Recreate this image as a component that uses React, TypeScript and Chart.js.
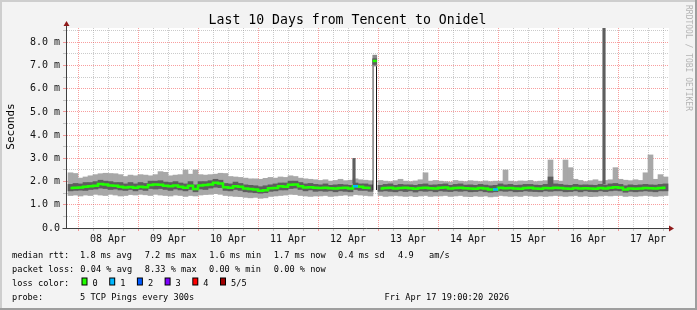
import React, { useEffect, useRef } from 'react';
import { Chart, registerables } from 'chart.js';

Chart.register(...registerables);

const TITLE = 'Last 10 Days from Tencent to Onidel';
const Y_TITLE = 'Seconds';
const WATERMARK = 'RRDTOOL / TOBI OETIKER';

const dayLabels = ['08 Apr', '09 Apr', '10 Apr', '11 Apr', '12 Apr', '13 Apr', '14 Apr', '15 Apr', '16 Apr', '17 Apr'];
const yTickLabels = ['0.0', '1.0 m', '2.0 m', '3.0 m', '4.0 m', '5.0 m', '6.0 m', '7.0 m', '8.0 m'];

// time axis in hours after 07 Apr 00:00
const X_MIN_HOUR = 19.6;
const X_MAX_HOUR = 260.4;
const COL_START_HOUR = 20;
const COL_STEP_HOURS = 2;
const Y_MAX_MS = 8.62;

// one value per 2 h column (07 Apr 20:00 .. 17 Apr 20:00), milliseconds
const minRtt = [
  1.40, 1.42,
  1.38, 1.42, 1.40, 1.45, 1.42, 1.40, 1.45, 1.42, 1.38, 1.40, 1.44, 1.42,
  1.45, 1.43, 1.40, 1.45, 1.42, 1.40, 1.38, 1.42, 1.40, 1.36, 1.40, 1.38,
  1.42, 1.44, 1.45, 1.48, 1.45, 1.40, 1.38, 1.36, 1.35, 1.32, 1.30, 1.32,
  1.28, 1.30, 1.36, 1.38, 1.40, 1.42, 1.45, 1.44, 1.40, 1.38, 1.36, 1.38,
  1.38, 1.40, 1.36, 1.38, 1.40, 1.42, 1.38, 1.44, 1.42, 1.40, 1.38, null,
  1.40, 1.36, 1.38, 1.40, 1.38, 1.36, 1.38, 1.35, 1.38, 1.40, 1.36, 1.38,
  1.38, 1.40, 1.36, 1.38, 1.40, 1.36, 1.35, 1.38, 1.36, 1.38, 1.34, 1.36,
  1.40, 1.38, 1.36, 1.38, 1.36, 1.40, 1.38, 1.36, 1.38, 1.36, 1.38, 1.40,
  1.38, 1.36, 1.38, 1.40, 1.36, 1.38, 1.35, 1.36, 1.38, 1.40, 1.38, 1.40,
  1.40, 1.36, 1.38, 1.36, 1.38, 1.40, 1.38, 1.36, 1.38, 1.40,
];
const q1Rtt = [
  1.60, 1.62,
  1.63, 1.62, 1.66, 1.68, 1.72, 1.70, 1.66, 1.68, 1.64, 1.62, 1.66, 1.60,
  1.66, 1.62, 1.70, 1.68, 1.70, 1.66, 1.62, 1.68, 1.64, 1.60, 1.66, 1.56,
  1.68, 1.66, 1.72, 1.76, 1.74, 1.62, 1.60, 1.66, 1.62, 1.56, 1.54, 1.52,
  1.50, 1.52, 1.58, 1.60, 1.64, 1.64, 1.70, 1.72, 1.66, 1.60, 1.64, 1.58,
  1.60, 1.58, 1.60, 1.56, 1.60, 1.58, 1.56, 1.66, 1.62, 1.62, 1.58, null,
  1.58, 1.60, 1.58, 1.56, 1.60, 1.57, 1.60, 1.55, 1.60, 1.58, 1.60, 1.56,
  1.60, 1.58, 1.57, 1.60, 1.58, 1.60, 1.56, 1.57, 1.60, 1.56, 1.54, 1.56,
  1.60, 1.58, 1.60, 1.56, 1.57, 1.60, 1.58, 1.57, 1.56, 1.60, 1.58, 1.60,
  1.60, 1.56, 1.57, 1.60, 1.56, 1.60, 1.57, 1.56, 1.60, 1.57, 1.60, 1.62,
  1.60, 1.54, 1.58, 1.56, 1.58, 1.60, 1.58, 1.56, 1.60, 1.60,
];
const medianRtt = [
  1.72, 1.74,
  1.75, 1.78, 1.80, 1.82, 1.90, 1.88, 1.83, 1.82, 1.78, 1.75, 1.77, 1.74,
  1.78, 1.76, 1.85, 1.87, 1.86, 1.82, 1.80, 1.83, 1.78, 1.74, 1.82, 1.68,
  1.83, 1.85, 1.88, 1.95, 1.92, 1.76, 1.74, 1.80, 1.78, 1.70, 1.68, 1.66,
  1.61, 1.63, 1.71, 1.72, 1.80, 1.78, 1.86, 1.87, 1.80, 1.75, 1.76, 1.73,
  1.72, 1.74, 1.71, 1.70, 1.72, 1.73, 1.70, 1.80, 1.78, 1.74, 1.72, null,
  1.70, 1.72, 1.74, 1.70, 1.72, 1.73, 1.71, 1.69, 1.72, 1.74, 1.71, 1.70,
  1.73, 1.75, 1.70, 1.72, 1.74, 1.71, 1.70, 1.69, 1.72, 1.70, 1.66, 1.66,
  1.74, 1.71, 1.72, 1.70, 1.69, 1.72, 1.73, 1.70, 1.69, 1.72, 1.71, 1.74,
  1.72, 1.70, 1.69, 1.72, 1.70, 1.71, 1.70, 1.69, 1.72, 1.70, 1.74, 1.76,
  1.73, 1.66, 1.70, 1.69, 1.70, 1.72, 1.71, 1.70, 1.72, 1.74,
];
const q3Rtt = [
  1.88, 1.92,
  1.90, 1.96, 1.96, 2.00, 2.06, 2.02, 2.00, 1.96, 1.96, 1.90, 1.96, 1.90,
  1.96, 1.92, 2.02, 2.02, 2.04, 1.98, 1.96, 2.00, 1.94, 1.90, 2.00, 1.86,
  2.00, 2.00, 2.04, 2.10, 2.06, 1.92, 1.90, 1.98, 1.92, 1.86, 1.84, 1.82,
  1.78, 1.82, 1.86, 1.90, 1.94, 1.94, 2.02, 2.02, 1.96, 1.90, 1.92, 1.88,
  1.86, 1.90, 1.84, 1.86, 1.88, 1.86, 1.84, 1.94, 1.90, 1.90, 1.86, null,
  1.84, 1.88, 1.90, 1.84, 1.88, 1.86, 1.86, 1.84, 1.88, 1.90, 1.85, 1.86,
  1.88, 1.90, 1.84, 1.88, 1.90, 1.85, 1.86, 1.84, 1.88, 1.85, 1.82, 1.84,
  1.90, 1.86, 1.88, 1.84, 1.85, 1.88, 1.88, 1.85, 1.84, 1.88, 2.20, 1.90,
  1.88, 1.85, 1.84, 1.88, 1.85, 1.86, 1.85, 1.84, 1.88, 1.85, 1.90, 1.92,
  1.88, 1.82, 1.86, 1.84, 1.86, 1.88, 1.86, 1.85, 1.88, 1.90,
];
const maxRtt = [
  2.38, 2.35,
  2.15, 2.20, 2.25, 2.30, 2.34, 2.36, 2.35, 2.34, 2.30, 2.22, 2.28, 2.25,
  2.30, 2.28, 2.25, 2.30, 2.43, 2.40, 2.25, 2.28, 2.30, 2.50, 2.32, 2.50,
  2.30, 2.28, 2.30, 2.32, 2.36, 2.35, 2.22, 2.20, 2.18, 2.15, 2.12, 2.12,
  2.10, 2.14, 2.18, 2.15, 2.20, 2.18, 2.25, 2.22, 2.15, 2.12, 2.10, 2.08,
  2.05, 2.08, 2.02, 2.05, 2.10, 2.04, 2.06, 2.12, 2.08, 2.06, 2.04, null,
  2.05, 2.02, 2.00, 2.04, 2.10, 2.02, 2.00, 2.03, 2.08, 2.38, 2.02, 2.05,
  2.02, 2.00, 1.98, 2.05, 2.02, 2.00, 2.04, 2.02, 2.00, 2.03, 2.00, 2.02,
  2.02, 2.50, 2.02, 2.00, 2.03, 2.02, 2.05, 2.00, 2.02, 2.04, 2.93, 2.05,
  2.02, 2.93, 2.60, 2.10, 2.05, 2.00, 2.04, 2.08, 2.02, 2.05, 2.08, 2.60,
  2.10, 2.06, 2.04, 2.08, 2.05, 2.38, 3.15, 2.10, 2.30, 2.20,
];

// columns where some pings were lost, and how many
const lossColumns = [57, 85];
const lossCounts = [1, 1];
const lossPalette = ['#20ff00', '#00b8ff', '#0059ff', '#7e00ff', '#ff0000', '#a00000'];
const lossLabels = ['0', '1', '2', '3', '4', '5/5'];

// narrow dark spikes (hour, low, high)
const spikeHours = [134.4, 234.4];
const spikeLow = [1.95, 1.9];
const spikeHigh = [3.0, 9.5];

// the 7.2 ms event on 12 Apr
const eventHour = [142.7];
const eventBase = [1.64];
const eventLow = [6.98];
const eventQ1 = [7.05];
const eventMedian = [7.2];
const eventQ3 = [7.3];
const eventHigh = [7.45];

const rttStats = ['1.8 ms avg', '7.2 ms max', '1.6 ms min', '1.7 ms now', '0.4 ms sd', '4.9', 'am/s'];
const lossStats = ['0.04 % avg', '8.33 % max', '0.00 % min', '0.00 % now'];
const probeText = '5 TCP Pings every 300s';
const dateText = 'Fri Apr 17 19:00:20 2026';

const MONO = '"DejaVu Sans Mono"';
const MAJOR_GRID = 'rgba(240,40,40,0.45)';
const MINOR_GRID = 'rgba(140,140,140,0.45)';
const LIGHT_SMOKE = '#a8a8a8';
const DARK_SMOKE = '#5e5e5e';

const colX = (i: number) => COL_START_HOUR + COL_STEP_HOURS * i + COL_STEP_HOURS / 2;

function rangeData(lo: (number | null)[], hi: (number | null)[]) {
  const out: any[] = [];
  lo.forEach((v, i) => {
    if (v != null && hi[i] != null) out.push({ x: colX(i), y: [v, hi[i]] });
  });
  return out;
}

const decorPlugin = {
  id: 'decor',
  beforeDraw(chart: any) {
    const { ctx, chartArea: a, width, height } = chart;
    ctx.save();
    ctx.fillStyle = '#f3f3f3';
    ctx.fillRect(0, 0, width, height);
    ctx.fillStyle = '#ffffff';
    ctx.fillRect(a.left, a.top, a.right - a.left, a.bottom - a.top);
    ctx.fillStyle = '#cecece';
    ctx.fillRect(0, 0, width, 2);
    ctx.fillRect(0, 0, 2, height);
    ctx.fillStyle = '#9e9e9e';
    ctx.fillRect(0, height - 2, width, 2);
    ctx.fillRect(width - 2, 0, 2, height);
    ctx.restore();
  },
  afterDraw(chart: any) {
    const { ctx, chartArea: a } = chart;
    ctx.save();
    // axes
    const ax = Math.round(a.left) - 0.5;
    const ay = Math.round(a.bottom) + 0.5;
    ctx.strokeStyle = '#404040';
    ctx.lineWidth = 1;
    ctx.beginPath();
    ctx.moveTo(ax, ay);
    ctx.lineTo(ax, a.top - 3);
    ctx.moveTo(ax - 4, ay);
    ctx.lineTo(a.right + 2, ay);
    ctx.stroke();
    // arrows
    ctx.fillStyle = '#8f1a1a';
    ctx.beginPath();
    ctx.moveTo(ax - 3, a.top - 2);
    ctx.lineTo(ax + 3, a.top - 2);
    ctx.lineTo(ax, a.top - 7);
    ctx.closePath();
    ctx.fill();
    ctx.beginPath();
    ctx.moveTo(a.right, ay - 3);
    ctx.lineTo(a.right, ay + 3);
    ctx.lineTo(a.right + 5, ay);
    ctx.closePath();
    ctx.fill();

    // title
    ctx.fillStyle = '#000';
    ctx.font = `13.2px ${MONO}`;
    ctx.textAlign = 'center';
    ctx.textBaseline = 'alphabetic';
    ctx.fillText(TITLE, 347.5, 24);

    // y title
    ctx.save();
    ctx.translate(11, 126.5);
    ctx.rotate(-Math.PI / 2);
    ctx.font = `11px ${MONO}`;
    ctx.textAlign = 'center';
    ctx.textBaseline = 'middle';
    ctx.fillText(Y_TITLE, 0, 0);
    ctx.restore();

    // watermark
    ctx.save();
    ctx.translate(688, 5);
    ctx.rotate(Math.PI / 2);
    ctx.font = `8px ${MONO}`;
    ctx.fillStyle = '#b4b4b4';
    ctx.textAlign = 'left';
    ctx.textBaseline = 'middle';
    ctx.fillText(WATERMARK, 0, 0);
    ctx.restore();

    // legend
    ctx.font = `8.65px ${MONO}`;
    ctx.fillStyle = '#000';
    ctx.textAlign = 'left';
    ctx.textBaseline = 'alphabetic';
    const rows = [257.5, 271.5, 285.5, 299.5];
    ctx.fillText('median rtt:', 12, rows[0]);
    const rttX = [80, 144.7, 209.3, 273.8, 338, 398, 429];
    rttStats.forEach((t, i) => ctx.fillText(t, rttX[i], rows[0]));
    ctx.fillText('packet loss:', 12, rows[1]);
    const lossX = [80.3, 144.7, 209, 273.8];
    lossStats.forEach((t, i) => ctx.fillText(t, lossX[i], rows[1]));
    ctx.fillText('loss color:', 12, rows[2]);
    lossLabels.forEach((t, i) => {
      const bx = 81.5 + i * 27.7;
      ctx.fillStyle = '#000';
      ctx.fillRect(bx, 277.5, 6, 8);
      ctx.fillStyle = lossPalette[i];
      ctx.fillRect(bx + 1, 278.5, 4, 6);
      ctx.fillStyle = '#000';
      ctx.fillText(t, bx + 11, rows[2]);
    });
    ctx.fillText('probe:', 12, rows[3]);
    ctx.fillText(probeText, 80, rows[3]);
    ctx.fillText(dateText, 384.5, rows[3]);
    ctx.restore();
  },
};

export default function App() {
  const ref = useRef<HTMLCanvasElement | null>(null);

  useEffect(() => {
    document.body.style.margin = '0';
    const canvas = ref.current;
    if (!canvas) return;

    const medianLine = medianRtt.map((v, i) => ({ x: colX(i), y: v }));
    const lossPoints = lossColumns.map((c) => ({ x: colX(c), y: medianRtt[c] }));
    const lossColors = lossCounts.map((n) => lossPalette[n]);

    const chart = new Chart(canvas, {
      type: 'bar',
      data: {
        datasets: [
          {
            type: 'bar',
            label: 'min-max',
            data: rangeData(minRtt, maxRtt),
            backgroundColor: LIGHT_SMOKE,
            borderWidth: 0,
            barThickness: 5,
            grouped: false,
            order: 10,
          } as any,
          {
            type: 'bar',
            label: 'inner',
            data: rangeData(q1Rtt, q3Rtt),
            backgroundColor: DARK_SMOKE,
            borderWidth: 0,
            barThickness: 5,
            grouped: false,
            order: 9,
          } as any,
          {
            type: 'bar',
            label: 'spikes',
            data: spikeHours.map((h, i) => ({ x: h, y: [spikeLow[i], spikeHigh[i]] })),
            backgroundColor: DARK_SMOKE,
            borderWidth: 0,
            barThickness: 2.5,
            grouped: false,
            order: 8,
          } as any,
          {
            type: 'bar',
            label: 'event edges',
            data: eventHour.map((h, i) => ({ x: h, y: [eventBase[i], eventQ3[i]] })),
            backgroundColor: '#ffffff',
            borderColor: '#000000',
            borderWidth: { left: 1, right: 1, top: 0, bottom: 0 },
            borderSkipped: false,
            barThickness: 4,
            grouped: false,
            order: 7,
          } as any,
          {
            type: 'bar',
            label: 'event smoke',
            data: eventHour.map((h, i) => ({ x: h, y: [eventLow[i], eventHigh[i]] })),
            backgroundColor: '#8a8a8a',
            borderWidth: 0,
            barThickness: 4,
            grouped: false,
            order: 6,
          } as any,
          {
            type: 'bar',
            label: 'event inner',
            data: eventHour.map((h, i) => ({ x: h, y: [eventQ1[i], eventQ3[i]] })),
            backgroundColor: DARK_SMOKE,
            borderWidth: 0,
            barThickness: 4,
            grouped: false,
            order: 5,
          } as any,
          {
            type: 'line',
            label: 'median',
            data: medianLine,
            borderColor: lossPalette[0],
            borderWidth: 2.5,
            stepped: 'middle',
            pointRadius: 0,
            spanGaps: false,
            order: 3,
          } as any,
          {
            type: 'line',
            label: 'event median',
            data: eventHour.map((h, i) => ({ x: h, y: eventMedian[i] })),
            showLine: false,
            pointStyle: 'line',
            pointRadius: 2,
            pointBorderWidth: 2.5,
            pointBorderColor: lossPalette[0],
            order: 2,
          } as any,
          {
            type: 'line',
            label: 'loss',
            data: lossPoints,
            showLine: false,
            pointStyle: 'line',
            pointRadius: 2.5,
            pointBorderWidth: 2.5,
            pointBorderColor: lossColors,
            order: 1,
          } as any,
        ],
      },
      options: {
        animation: false,
        responsive: false,
        maintainAspectRatio: false,
        events: [],
        layout: { autoPadding: false, padding: { left: 0, top: 28, right: 28, bottom: 62 } },
        plugins: {
          legend: { display: false },
          tooltip: { enabled: false },
          title: { display: false },
        },
        scales: {
          x: {
            type: 'linear',
            offset: false,
            min: X_MIN_HOUR,
            max: X_MAX_HOUR,
            afterBuildTicks: (scale: any) => {
              const t: any[] = [];
              for (let h = 24; h <= X_MAX_HOUR; h += 6) t.push({ value: h });
              scale.ticks = t;
            },
            afterFit: (scale: any) => {
              scale.height = 20;
            },
            grid: {
              offset: false,
              color: (c: any) => (c.tick && c.tick.value % 24 === 0 ? MAJOR_GRID : MINOR_GRID),
              lineWidth: 1,
              drawTicks: true,
              tickLength: 3,
            },
            border: { display: false, dash: [1, 1] },
            ticks: {
              autoSkip: false,
              maxRotation: 0,
              minRotation: 0,
              padding: 2,
              color: '#111',
              font: { family: 'DejaVu Sans Mono', size: 10 },
              callback: (v: any) => {
                const n = Number(v);
                return n % 24 === 12 ? dayLabels[(n - 36) / 24] ?? '' : '';
              },
            },
          },
          y: {
            type: 'linear',
            min: 0,
            max: Y_MAX_MS,
            afterBuildTicks: (scale: any) => {
              const t: any[] = [];
              for (let v = 0; v <= 8.5; v += 0.5) t.push({ value: v });
              scale.ticks = t;
            },
            afterFit: (scale: any) => {
              scale.width = 67;
            },
            grid: {
              color: (c: any) => {
                const v = c.tick ? c.tick.value : 0;
                if (v === 0) return 'rgba(0,0,0,0)';
                return Number.isInteger(v) ? MAJOR_GRID : MINOR_GRID;
              },
              lineWidth: 1,
              drawTicks: true,
              tickLength: 4,
            },
            border: { display: false, dash: [1, 1] },
            ticks: {
              autoSkip: false,
              padding: 3,
              color: '#111',
              font: { family: 'DejaVu Sans Mono', size: 10 },
              callback: (v: any) => {
                const n = Number(v);
                return Number.isInteger(n) ? yTickLabels[n] ?? '' : '';
              },
            },
          },
        },
      } as any,
      plugins: [decorPlugin],
    });

    return () => chart.destroy();
  }, []);

  return (
    <canvas
      ref={ref}
      width={697}
      height={310}
      style={{ display: 'block', width: 697, height: 310 }}
    />
  );
}
